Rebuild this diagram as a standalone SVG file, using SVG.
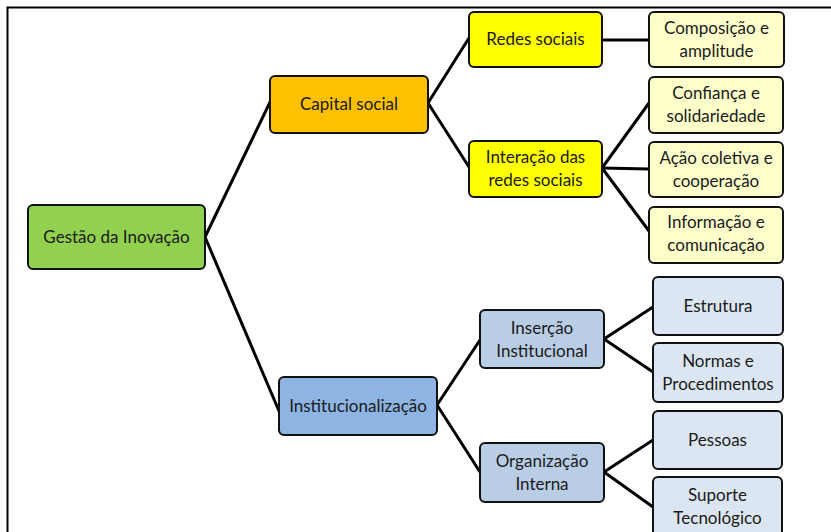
<svg xmlns="http://www.w3.org/2000/svg" width="831" height="532" viewBox="0 0 831 532">
  <style>
    .box { stroke: #111; stroke-width: 2; }
    .lvl0 { fill: #92D050; }
    .lvl1a { fill: #FFC000; }
    .lvl2a { fill: #FFFF00; }
    .lvl3a { fill: #FFFFCC; }
    .lvl1b { fill: #8EB4E3; }
    .lvl2b { fill: #B9CDE5; }
    .lvl3b { fill: #DCE6F2; }
    text { font-family: Lato, "Open Sans", "Liberation Sans", sans-serif; font-size: 17px; fill: #1a1a1a; text-anchor: middle; dominant-baseline: central; }
    .conn { stroke: #000; stroke-width: 3; fill: none; stroke-linecap: round; }
  </style>
  <rect x="0" y="0" width="831" height="532" fill="#fff"/>
  <!-- outer frame -->
  <rect x="7.5" y="7.5" width="840" height="540" fill="none" stroke="#000" stroke-width="2"/>

  <g id="connectors">
    <line class="conn" x1="205" y1="237" x2="272" y2="98"/>
    <line class="conn" x1="205" y1="237" x2="279" y2="411"/>
    <line class="conn" x1="428" y1="103" x2="469" y2="38"/>
    <line class="conn" x1="428" y1="103" x2="469" y2="167"/>
    <line class="conn" x1="602" y1="40" x2="649" y2="40"/>
    <line class="conn" x1="602" y1="168" x2="649" y2="103"/>
    <line class="conn" x1="602" y1="168" x2="649" y2="169"/>
    <line class="conn" x1="602" y1="168" x2="649" y2="231"/>
    <line class="conn" x1="437" y1="405" x2="480" y2="340"/>
    <line class="conn" x1="437" y1="405" x2="480" y2="472"/>
    <line class="conn" x1="604" y1="339" x2="653" y2="307"/>
    <line class="conn" x1="604" y1="339" x2="653" y2="372"/>
    <line class="conn" x1="604" y1="472" x2="653" y2="440"/>
    <line class="conn" x1="604" y1="472" x2="653" y2="507"/>
  </g>

  <g id="gestao">
    <rect class="box lvl0" x="28" y="205" width="177" height="64" rx="5"/>
    <text x="116.5" y="236">Gestão da Inovação</text>
  </g>

  <g id="capital-social">
    <rect class="box lvl1a" x="270" y="76" width="158" height="57" rx="5"/>
    <text x="349" y="103">Capital social</text>
  </g>

  <g id="redes-sociais">
    <rect class="box lvl2a" x="469" y="12" width="133" height="55" rx="5"/>
    <text x="535.5" y="38">Redes sociais</text>
  </g>

  <g id="interacao">
    <rect class="box lvl2a" x="469" y="141" width="133" height="56" rx="5"/>
    <text x="535.5" y="156">Interação das</text>
    <text x="535.5" y="179">redes sociais</text>
  </g>

  <g id="composicao">
    <rect class="box lvl3a" x="649" y="12" width="135" height="55" rx="5"/>
    <text x="716.5" y="27">Composição e</text>
    <text x="716.5" y="50">amplitude</text>
  </g>

  <g id="confianca">
    <rect class="box lvl3a" x="649" y="77" width="134" height="56" rx="5"/>
    <text x="716" y="92">Confiança e</text>
    <text x="716" y="115">solidariedade</text>
  </g>

  <g id="acao-coletiva">
    <rect class="box lvl3a" x="649" y="142" width="134" height="55" rx="5"/>
    <text x="716" y="157">Ação coletiva e</text>
    <text x="716" y="180">cooperação</text>
  </g>

  <g id="informacao">
    <rect class="box lvl3a" x="649" y="207" width="134" height="56" rx="5"/>
    <text x="716" y="221">Informação e</text>
    <text x="716" y="244">comunicação</text>
  </g>

  <g id="institucionalizacao">
    <rect class="box lvl1b" x="279" y="377" width="158" height="58" rx="5"/>
    <text x="358" y="405">Institucionalização</text>
  </g>

  <g id="insercao">
    <rect class="box lvl2b" x="480" y="310" width="124" height="58" rx="5"/>
    <text x="542" y="327">Inserção</text>
    <text x="542" y="350">Institucional</text>
  </g>

  <g id="organizacao">
    <rect class="box lvl2b" x="480" y="443" width="124" height="59" rx="5"/>
    <text x="542" y="460">Organização</text>
    <text x="542" y="483">Interna</text>
  </g>

  <g id="estrutura">
    <rect class="box lvl3b" x="653" y="277" width="130" height="58" rx="5"/>
    <text x="718" y="305">Estrutura</text>
  </g>

  <g id="normas">
    <rect class="box lvl3b" x="653" y="343" width="130" height="59" rx="5"/>
    <text x="718" y="360">Normas e</text>
    <text x="718" y="383">Procedimentos</text>
  </g>

  <g id="pessoas">
    <rect class="box lvl3b" x="653" y="411" width="129" height="58" rx="5"/>
    <text x="717.5" y="439">Pessoas</text>
  </g>

  <g id="suporte">
    <rect class="box lvl3b" x="653" y="477" width="129" height="60" rx="5"/>
    <text x="717.5" y="494">Suporte</text>
    <text x="717.5" y="517">Tecnológico</text>
  </g>
</svg>
